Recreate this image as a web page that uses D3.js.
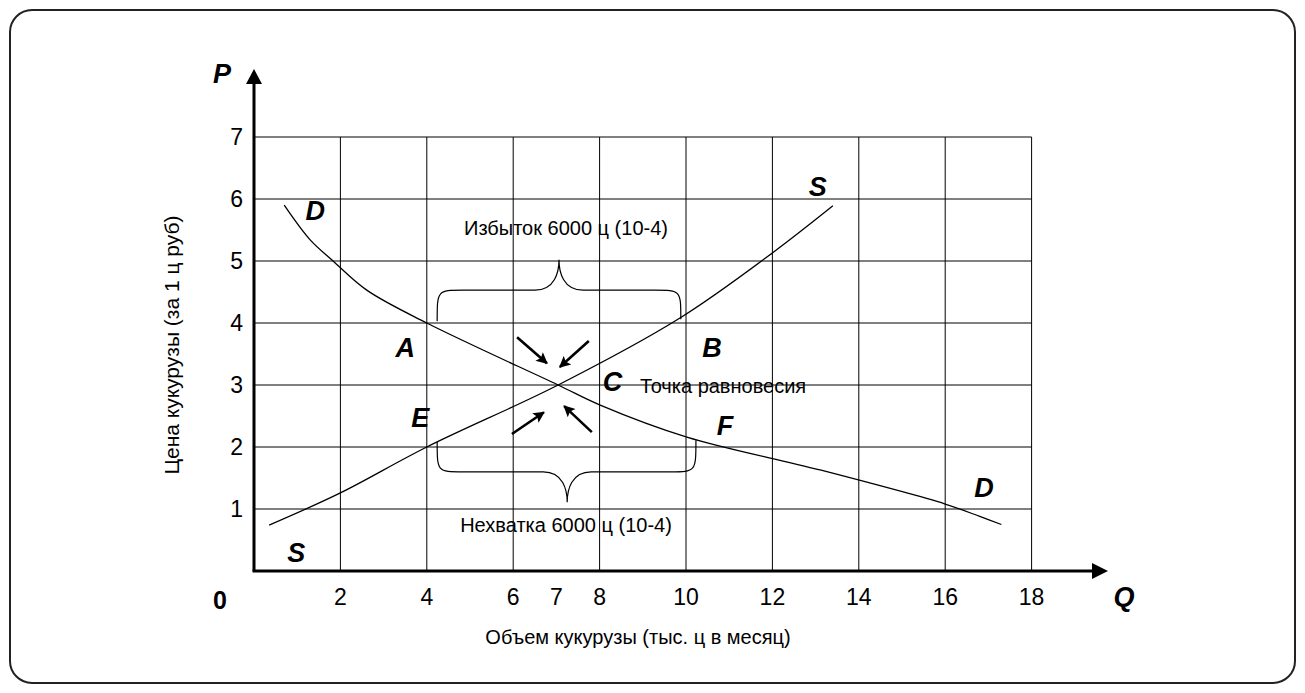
<!DOCTYPE html>
<html lang="ru">
<head>
<meta charset="UTF-8">
<title>Спрос и предложение кукурузы</title>
<script src="https://cdn.jsdelivr.net/npm/d3@7"></script>
<style>
  body { margin: 0; background: #fff; }
  text { font-family: Arial, "Liberation Sans", sans-serif; fill: #000; }
</style>
</head>
<body>
<svg id="chart" width="1305" height="693"></svg>
<script>
// ---- data ----
const xTicks = [2, 4, 6, 7, 8, 10, 12, 14, 16, 18];
const xGrid = [2, 4, 6, 8, 10, 12, 14, 16, 18];
const yTicks = [1, 2, 3, 4, 5, 6, 7];

// demand curve D (Q, P)
const demand = [[0.7, 5.9], [1.3, 5.34], [1.83, 5.0], [2.61, 4.53], [4, 4], [7.04, 3],
                [8.0, 2.68], [10.02, 2.16], [13.1, 1.63], [16, 1.08], [16.8, 0.88], [17.3, 0.75]];
// supply curve S (Q, P)
const supply = [[0.35, 0.74], [2, 1.26], [4, 2], [7.04, 3], [9.86, 4.08], [12, 5.13], [13.4, 5.89]];

// arrows pointing to the equilibrium point C
const arrows = [
  { from: [6.09, 3.77], to: [6.78, 3.35] },
  { from: [7.75, 3.71], to: [7.08, 3.29] },
  { from: [5.97, 2.21], to: [6.71, 2.56] },
  { from: [7.82, 2.24], to: [7.18, 2.66] }
];

// braces: surplus (top) and shortage (bottom)
const braces = [
  { x0: 4.24, x1: 9.88, base0: 4.03, base1: 4.06, mid: 4.53, tip: 5.02, tipX: 7.06 },
  { x0: 4.24, x1: 10.23, base0: 2.08, base1: 2.11, mid: 1.6, tip: 1.11, tipX: 7.25 }
];

const curveLabels = [
  { t: "D", q: 1.42, p: 5.66 }, { t: "S", q: 13.05, p: 6.05 },
  { t: "D", q: 16.9, p: 1.2 }, { t: "S", q: 0.98, p: 0.15 },
  { t: "A", q: 3.5, p: 3.45 }, { t: "B", q: 10.6, p: 3.45 },
  { t: "C", q: 8.3, p: 2.9 }, { t: "E", q: 3.85, p: 2.32 },
  { t: "F", q: 10.9, p: 2.2 }
];

// ---- layout ----
const svg = d3.select("#chart");
const x = d3.scaleLinear().domain([0, 18]).range([254, 1031.6]);
const y = d3.scaleLinear().domain([0, 7]).range([571, 137]);

// frame
svg.append("rect")
  .attr("x", 10).attr("y", 10).attr("width", 1285).attr("height", 673)
  .attr("rx", 22).attr("ry", 22)
  .attr("fill", "none").attr("stroke", "#222").attr("stroke-width", 2);

// grid
svg.append("g").selectAll("line").data(xGrid).join("line")
  .attr("x1", d => x(d)).attr("x2", d => x(d))
  .attr("y1", y(7)).attr("y2", y(0))
  .attr("stroke", "#000").attr("stroke-width", 1);
svg.append("g").selectAll("line").data(yTicks).join("line")
  .attr("x1", x(0)).attr("x2", x(18))
  .attr("y1", d => y(d)).attr("y2", d => y(d))
  .attr("stroke", "#000").attr("stroke-width", 1);

// axes with arrows
svg.append("line").attr("x1", x(0)).attr("y1", y(0)).attr("x2", x(0)).attr("y2", 80)
  .attr("stroke", "#000").attr("stroke-width", 3);
svg.append("path").attr("d", `M${x(0)},69 L${x(0) - 8},84 L${x(0) + 8},84 Z`);
svg.append("line").attr("x1", x(0) - 1.5).attr("y1", y(0)).attr("x2", 1095).attr("y2", y(0))
  .attr("stroke", "#000").attr("stroke-width", 3);
svg.append("path").attr("d", `M1108,${y(0)} L1092,${y(0) - 8} L1092,${y(0) + 8} Z`);

// tick labels
svg.append("g").selectAll("text").data(xTicks).join("text")
  .attr("x", d => x(d)).attr("y", 605)
  .attr("text-anchor", "middle").attr("font-size", 23)
  .text(d => d);
svg.append("g").selectAll("text").data(yTicks).join("text")
  .attr("x", 243).attr("y", d => y(d) + 8)
  .attr("text-anchor", "end").attr("font-size", 23)
  .text(d => d);
svg.append("text").attr("x", 220).attr("y", 609).attr("text-anchor", "middle")
  .attr("font-size", 25).attr("font-weight", "bold").text("0");

// axis letters
svg.append("text").attr("x", 222).attr("y", 83).attr("text-anchor", "middle")
  .attr("font-size", 27).attr("font-weight", "bold").attr("font-style", "italic").text("P");
svg.append("text").attr("x", 1124).attr("y", 606).attr("text-anchor", "middle")
  .attr("font-size", 27).attr("font-weight", "bold").attr("font-style", "italic").text("Q");

// axis titles
svg.append("text").attr("x", 638).attr("y", 644).attr("text-anchor", "middle")
  .attr("font-size", 20).text("Объем кукурузы (тыс. ц в месяц)");
svg.append("text").attr("transform", "translate(179,345) rotate(-90)")
  .attr("text-anchor", "middle").attr("font-size", 21).text("Цена кукурузы (за 1 ц руб)");

// curves
const line = d3.line().x(d => x(d[0])).y(d => y(d[1])).curve(d3.curveCatmullRom);
svg.append("path").attr("d", line(demand)).attr("fill", "none").attr("stroke", "#000").attr("stroke-width", 1.3);
svg.append("path").attr("d", line(supply)).attr("fill", "none").attr("stroke", "#000").attr("stroke-width", 1.3);

// braces
function bracePath(b) {
  const xa = x(b.x0), xb = x(b.x1), xt = x(b.tipX);
  const ya = y(b.base0), yb = y(b.base1), ym = y(b.mid), yt = y(b.tip);
  const r = 26, rt = 24;
  return `M${xa},${ya} C${xa},${ym} ${xa},${ym} ${xa + r},${ym} L${xt - rt},${ym} ` +
         `C${xt - 4},${ym} ${xt},${yt + (ym - yt) * 0.4} ${xt},${yt} ` +
         `C${xt},${yt + (ym - yt) * 0.4} ${xt + 4},${ym} ${xt + rt},${ym} ` +
         `L${xb - r},${ym} C${xb},${ym} ${xb},${ym} ${xb},${yb}`;
}
svg.append("g").selectAll("path").data(braces).join("path")
  .attr("d", bracePath).attr("fill", "none").attr("stroke", "#000").attr("stroke-width", 1.2);

// arrows
svg.append("defs").append("marker")
  .attr("id", "head").attr("viewBox", "0 0 10 10").attr("refX", 9).attr("refY", 5)
  .attr("markerWidth", 5).attr("markerHeight", 4.4).attr("markerUnits", "strokeWidth")
  .attr("orient", "auto")
  .append("path").attr("d", "M0,0 L10,5 L0,10 L2,5 Z").attr("fill", "#000");
svg.append("g").selectAll("line").data(arrows).join("line")
  .attr("x1", d => x(d.from[0])).attr("y1", d => y(d.from[1]))
  .attr("x2", d => x(d.to[0])).attr("y2", d => y(d.to[1]))
  .attr("stroke", "#000").attr("stroke-width", 2.6).attr("marker-end", "url(#head)");

// letters
svg.append("g").selectAll("text").data(curveLabels).join("text")
  .attr("x", d => x(d.q)).attr("y", d => y(d.p))
  .attr("text-anchor", "middle").attr("font-size", 27)
  .attr("font-weight", "bold").attr("font-style", "italic")
  .text(d => d.t);

// annotations
svg.append("text").attr("x", 566).attr("y", 235).attr("text-anchor", "middle")
  .attr("font-size", 20).text("Избыток 6000 ц (10-4)");
svg.append("text").attr("x", 566).attr("y", 532).attr("text-anchor", "middle")
  .attr("font-size", 20).text("Нехватка 6000 ц (10-4)");
svg.append("text").attr("x", 640).attr("y", 393)
  .attr("font-size", 20).text("Точка равновесия");
</script>
</body>
</html>
